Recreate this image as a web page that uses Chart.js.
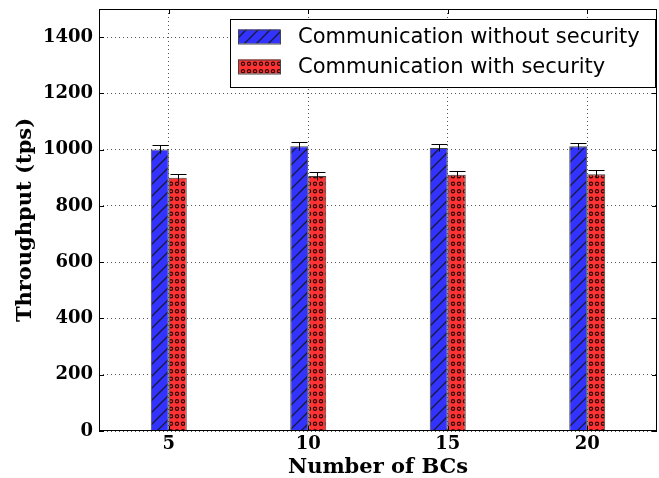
<!DOCTYPE html>
<html>
<head>
<meta charset="utf-8">
<script src="https://cdn.jsdelivr.net/npm/chart.js@4.4.1/dist/chart.umd.min.js"></script>
<style>
  html, body { margin: 0; padding: 0; background: #fff; }
  #wrap { width: 659px; height: 478px; }
</style>
</head>
<body>
<div id="wrap"><canvas id="c" width="659" height="478"></canvas></div>
<script>
// Number of blockchains (BCs) on the x axis
const categories = ['5', '10', '15', '20'];
// Mean throughput (tps) and its spread for each configuration
const withoutSecurity = [1001, 1012, 1006, 1012];
const withoutSecurityErr = [15, 16, 13, 13];
const withSecurity = [900, 906, 911, 913];
const withSecurityErr = [14, 15, 13, 13];
const yTicks = [0, 200, 400, 600, 800, 1000, 1200, 1400];
const seriesNames = ['Communication without security', 'Communication with security'];

const SERIF = '"DejaVu Serif", "Liberation Serif", serif';
const SANS = '"DejaVu Sans", "Liberation Sans", sans-serif';
const BLUE = '#3333ff';
const RED = '#ff3333';
const EDGE = '#444444';

// Diagonal "/" hatch on blue
function hatchPattern(ctx) {
  const s = 12;
  const t = document.createElement('canvas');
  t.width = s; t.height = s;
  const g = t.getContext('2d');
  g.fillStyle = BLUE; g.fillRect(0, 0, s, s);
  g.strokeStyle = '#1a1a40'; g.lineWidth = 1.4;
  g.beginPath();
  g.moveTo(-1, s + 1); g.lineTo(s + 1, -1);
  g.moveTo(-1, 1); g.lineTo(1, -1);
  g.moveTo(s - 1, s + 1); g.lineTo(s + 1, s - 1);
  g.stroke();
  return ctx.createPattern(t, 'repeat');
}
// Small-circle "o" hatch on red
function dotPattern(ctx) {
  const w = 6, h = 15;
  const t = document.createElement('canvas');
  t.width = w; t.height = h;
  const g = t.getContext('2d');
  g.fillStyle = RED; g.fillRect(0, 0, w, h);
  g.strokeStyle = '#2a0a0a'; g.lineWidth = 1.2;
  [3.75, 11.25].forEach(cy => {
    g.beginPath();
    g.arc(3, cy, 1.6, 0, Math.PI * 2);
    g.stroke();
  });
  return ctx.createPattern(t, 'repeat');
}

const canvas = document.getElementById('c');
const ctx0 = canvas.getContext('2d');
const blueFill = hatchPattern(ctx0);
const redFill = dotPattern(ctx0);

const errs = [withoutSecurityErr, withSecurityErr];

const errorBars = {
  id: 'errorBars',
  afterDatasetsDraw(chart) {
    const ctx = chart.ctx, y = chart.scales.y;
    ctx.save();
    ctx.strokeStyle = '#000'; ctx.lineWidth = 1;
    chart.data.datasets.forEach((ds, di) => {
      const meta = chart.getDatasetMeta(di);
      meta.data.forEach((bar, i) => {
        const v = ds.data[i], e = errs[di][i];
        const x = Math.round(bar.x) + 0.5;
        const yt = Math.round(y.getPixelForValue(v + e)) + 0.5;
        const yb = y.getPixelForValue(v - e);
        const half = bar.width / 2 - 1;
        ctx.beginPath();
        ctx.moveTo(x, yt); ctx.lineTo(x, yb);
        ctx.moveTo(x - half, yt); ctx.lineTo(x + half, yt);
        ctx.stroke();
      });
    });
    ctx.restore();
  }
};

const frame = {
  id: 'frame',
  afterDraw(chart) {
    const ctx = chart.ctx, a = chart.chartArea;
    const xs = chart.scales.x, ys = chart.scales.y;
    ctx.save();
    ctx.strokeStyle = '#000'; ctx.lineWidth = 1;
    // inward tick marks
    ctx.beginPath();
    ys.ticks.forEach((t, i) => {
      const py = Math.round(ys.getPixelForTick(i)) + 0.5;
      ctx.moveTo(a.left, py); ctx.lineTo(a.left + 5, py);
      ctx.moveTo(a.right, py); ctx.lineTo(a.right - 5, py);
    });
    xs.ticks.forEach((t, i) => {
      const px = Math.round(xs.getPixelForTick(i)) + 0.5;
      ctx.moveTo(px, a.bottom); ctx.lineTo(px, a.bottom - 5);
      ctx.moveTo(px, a.top); ctx.lineTo(px, a.top + 5);
    });
    ctx.stroke();
    ctx.strokeRect(Math.round(a.left) + 0.5, Math.round(a.top) + 0.5,
                   Math.round(a.right - a.left) - 1, Math.round(a.bottom - a.top) - 1);

    // legend box, upper right
    const fills = [blueFill, redFill];
    ctx.font = '21px ' + SANS;
    const bx = 230, by = 19, bw = 425, bh = 68;
    ctx.fillStyle = '#fff';
    ctx.fillRect(bx, by, bw, bh);
    ctx.strokeRect(bx + 0.5, by + 0.5, bw, bh);
    seriesNames.forEach((name, i) => {
      const cy = by + 17.5 + i * 30;
      ctx.fillStyle = fills[i];
      ctx.fillRect(238, cy - 7, 42, 14);
      ctx.strokeStyle = EDGE;
      ctx.strokeRect(238.5, cy - 7 + 0.5, 42, 14);
      ctx.fillStyle = '#000';
      ctx.textBaseline = 'middle';
      ctx.textAlign = 'left';
      ctx.fillText(name, 298, cy + 1);
    });
    ctx.restore();
  }
};

new Chart(canvas, {
  type: 'bar',
  data: {
    labels: categories,
    datasets: [
      { label: seriesNames[0], data: withoutSecurity, backgroundColor: blueFill,
        borderColor: EDGE, borderWidth: 1 },
      { label: seriesNames[1], data: withSecurity, backgroundColor: redFill,
        borderColor: EDGE, borderWidth: 1 }
    ]
  },
  options: {
    responsive: false,
    animation: false,
    devicePixelRatio: 1,
    layout: { padding: { top: 9, right: 2, left: 0, bottom: 0 } },
    datasets: { bar: { categoryPercentage: 0.258, barPercentage: 1.0 } },
    plugins: { legend: { display: false }, tooltip: { enabled: false } },
    scales: {
      x: {
        offset: true,
        grid: { color: '#555', drawTicks: false, offset: false },
        border: { display: false, dash: [1, 3] },
        ticks: { color: '#000', padding: 3, font: { family: SERIF, size: 18, weight: 'bold' } },
        title: { display: true, text: 'Number of BCs', color: '#000', padding: { top: 0, bottom: 0 },
                 font: { family: SERIF, size: 21, weight: 'bold', lineHeight: 1 } },
        afterFit(s) { s.height = 47; s.paddingLeft = 0; s.paddingRight = 0; }
      },
      y: {
        min: 0, max: 1500,
        afterBuildTicks(s) { s.ticks = yTicks.map(v => ({ value: v })); },
        grid: { color: '#555', drawTicks: false },
        border: { display: false, dash: [1, 3] },
        ticks: { color: '#000', padding: 6, font: { family: SERIF, size: 18, weight: 'bold' },
                 callback: v => String(v) },
        title: { display: true, text: 'Throughput (tps)', color: '#000', padding: { top: 15, bottom: 0 },
                 font: { family: SERIF, size: 21, weight: 'bold', lineHeight: 1 } },
        afterFit(s) { s.width = 99; s.paddingTop = 0; s.paddingBottom = 0; }
      }
    }
  },
  plugins: [errorBars, frame]
});
</script>
</body>
</html>
